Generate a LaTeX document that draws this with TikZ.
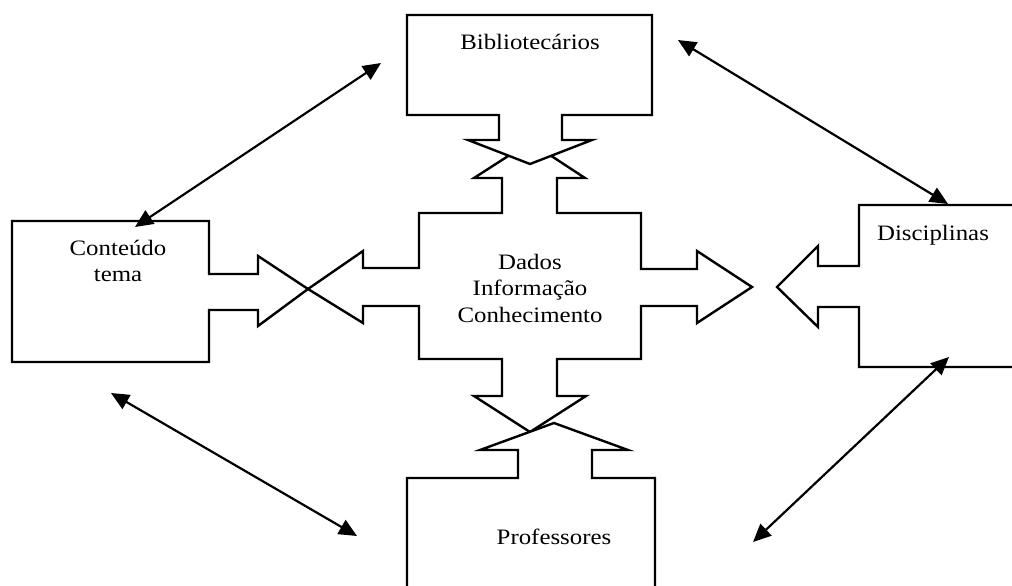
\documentclass[tikz,border=0pt]{standalone}
\usepackage{fontspec}
\setmainfont{Liberation Serif}
\newfontfamily\widefont[FakeStretch=1.13]{Liberation Serif}
\usetikzlibrary{arrows.meta}
\begin{document}
\begin{tikzpicture}[x=1pt,y=-1pt,
  shp/.style={draw=black, line width=2.4pt, fill=white, line join=miter},
  lbl/.style={font=\widefont\fontsize{22}{26}\selectfont, inner sep=0pt, anchor=base},
  link/.style={line width=2.2pt, {Triangle[length=18pt,width=16pt]}-{Triangle[length=18pt,width=16pt]}}]
\useasboundingbox (0,0) rectangle (1012,586);
\clip (0,0) rectangle (1012,586);
\fill[white] (0,0) rectangle (1012,586);

% central cross with four arrow heads
\draw[shp] (502,213) -- (419,213) -- (419,268) -- (363,268) -- (363,251) -- (308,289)
  -- (363,323) -- (363,306) -- (419,306) -- (419,359) -- (502,359) -- (502,396)
  -- (474,396) -- (530,432) -- (586,396) -- (557,396) -- (557,359) -- (641,359)
  -- (641,306) -- (697,306) -- (697,323) -- (752,287) -- (697,251) -- (697,269)
  -- (641,269) -- (641,213) -- (557,213) -- (557,178) -- (585,178) -- (530,142)
  -- (474,178) -- (502,178) -- cycle;

% top box (Bibliotecarios)
\draw[shp] (407,15) -- (652,15) -- (652,115) -- (562,115) -- (562,140) -- (592,140)
  -- (530,164) -- (468,140) -- (499,140) -- (499,115) -- (407,115) -- cycle;

% bottom box (Professores)
\draw[shp] (407,600) -- (407,478) -- (518,478) -- (518,450) -- (480,450) -- (554,423)
  -- (628,450) -- (592,450) -- (592,478) -- (655,478) -- (655,600);

% left box (Conteudo tema)
\draw[shp] (12,221) -- (209,221) -- (209,274) -- (258,274) -- (258,256) -- (308,289)
  -- (258,326) -- (258,310) -- (209,310) -- (209,362) -- (12,362) -- cycle;

% right box (Disciplinas)
\draw[shp] (1030,205) -- (859,205) -- (859,266) -- (818,266) -- (818,246) -- (777,287)
  -- (818,327) -- (818,307) -- (859,307) -- (859,367) -- (1030,367);

% labels
\node[lbl] (biblio) at (530,49) {Bibliotecários};
\node[lbl] (disc) at (933,240) {Disciplinas};
\node[lbl] (cont) at (118,255) {Conteúdo};
\node[lbl] (tema) at (118,281) {tema};
\node[lbl] (prof) at (554,544) {Professores};
\node[lbl] (dados) at (530,269) {Dados};
\node[lbl] (info) at (530,295) {Informação};
\node[lbl] (conh) at (530,322) {Conhecimento};

% connector end points
\coordinate (p1a) at (135,227);
\coordinate (p1b) at (381,63);
\coordinate (p2a) at (678,40);
\coordinate (p2b) at (948,204);
\coordinate (p3a) at (111,393);
\coordinate (p3b) at (357,536);
\coordinate (p4a) at (949,357);
\coordinate (p4b) at (753,542);

\draw[link] (p1a) -- (p1b);
\draw[link] (p2a) -- (p2b);
\draw[link] (p3a) -- (p3b);
\draw[link] (p4a) -- (p4b);
\end{tikzpicture}
\end{document}
